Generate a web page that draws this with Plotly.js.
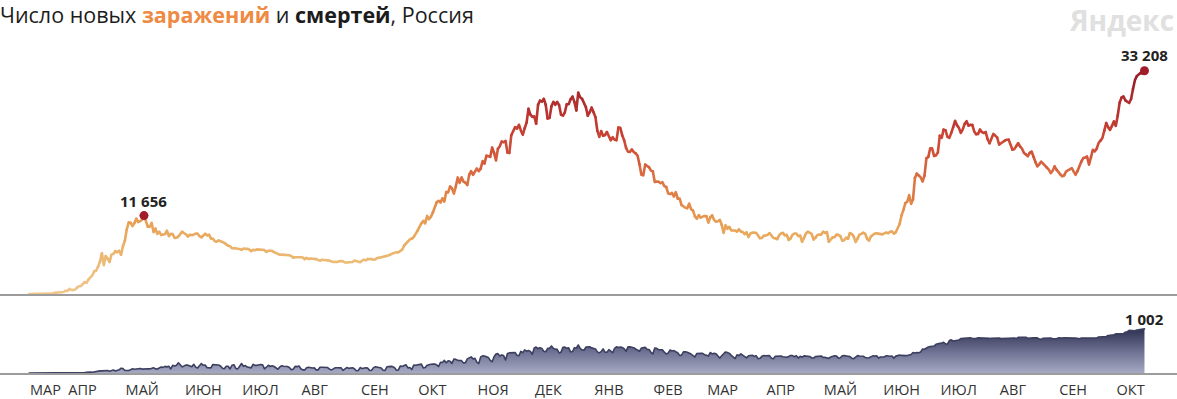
<!DOCTYPE html>
<html><head><meta charset="utf-8">
<script src="https://cdn.plot.ly/plotly-3.0.1.min.js"></script>
<style>
html,body{margin:0;padding:0;background:#fff;}
#chart{width:1177px;height:399px;}
path.js-line{stroke-linecap:round !important;stroke-linejoin:round !important;}
</style></head><body><div id="chart"></div>
<script>
// Daily new cases, Russia (from 2020-03-12 and from 2021-01-01)
const startDate2020 = '2020-03-12';
const startDate2021 = '2021-01-01';
const cases2020 = [
 6,8,14,4,30,21,33,52,54,53,61,71,57,163,182,196,228,270,302,501,
 440,771,601,582,658,954,1154,1175,1459,1786,1667,2186,2558,2774,3388,3448,4070,4785,6060,4268,5642,5236,4774,5849,5966,6361,6198,6411,5841,7099,
 7933,9623,10633,10581,10102,10559,11231,10699,10817,11012,11656,10899,10028,9974,10598,9200,9709,8926,9263,8764,8849,8894,9434,8599,8946,8915,8338,8371,8572,8952,9268,
 9035,8863,8536,8831,8726,8855,8984,8985,8595,8404,8779,8987,8706,8835,8246,8248,7843,7790,7972,7889,7728,7600,7425,7176,7113,6800,6852,6791,6719,6693,
 6556,6760,6718,6736,6611,6368,6562,6509,6635,6632,6615,6611,6537,6248,6422,6428,6406,6234,6109,5940,5842,5862,5848,5811,5871,5765,5635,5395,5475,5509,5482,
 5462,5427,5159,5394,5204,5267,5241,5212,5189,5118,4945,5102,5057,5065,5061,4969,4839,4748,4790,4767,4870,4921,4852,4696,4676,4711,4829,4758,4980,4897,4729,
 4729,4952,5110,4995,5205,5195,5185,5099,5172,5363,5406,5449,5509,5539,5670,5762,5905,6065,6148,6196,6215,6431,6595,7212,7523,7867,8135,8232,8481,8945,
 9412,9859,10499,10888,10499,11615,11115,11493,12126,12846,13634,13868,13592,14231,13754,15150,15099,15982,15700,14922,15971,17340,16521,17347,16710,16550,16202,17717,18283,17717,18140,
 18665,18257,18648,19768,19404,20582,20498,20396,21798,20977,19851,21608,21983,22702,22572,22778,21020,20985,23610,24318,24822,24581,25173,24326,23675,24654,25487,27543,26683,26338,
 26402,25345,28145,28782,28585,29039,28142,26097,26190,27927,28585,28137,28585,28080,26689,26509,27025,28214,28209,28948,29350,28552,27300,29935,29258,29018,28284,27787,26513,27039,27747
];
const cases2021 = [
 27029,26301,24246,23351,24217,23541,23652,24092,23309,22851,23315,22934,22850,24763,24715,23586,22857,21734,21152,21127,21513,21127,20921,20588,19290,17741,17648,19238,19032,18856,18359,
 18241,16643,16714,16688,16474,16627,16048,15916,14957,14861,15038,14494,15150,14185,14207,13233,12953,12828,12742,13447,12604,12393,11534,11198,11749,11359,11534,11611,
 11571,10595,11385,11687,11024,10753,10816,11022,10285,9079,10233,9701,9999,9454,9445,9437,9270,9632,9299,9215,8892,9195,8457,8998,9128,9073,9100,8711,8277,8328,8674,
 8679,8792,9068,8646,8328,8294,8173,8731,8995,9102,8702,8814,8053,8271,8807,8996,8995,8632,8672,7757,8328,8979,9270,9073,8951,8115,8367,8780,8850,8830,
 9270,9073,9221,7770,8095,8419,8457,8824,8790,8618,7920,7975,8380,8217,9074,8948,8554,7726,8237,8828,8947,9121,8951,8217,7920,8554,8828,8998,9018,8951,8828,
 8863,9022,9145,9018,9270,9316,8957,9184,9936,10407,11699,12505,13510,13721,14723,13397,14057,17262,17906,17611,17378,16715,17594,20182,20393,21665,21650,20538,20616,21042,
 23543,23218,24439,24353,23378,23218,23962,24818,25766,25082,24702,23947,24472,25293,25704,25018,25173,25140,24166,23770,23811,24471,24072,23947,24072,23032,22420,23270,23811,23564,23270,
 22200,22420,22589,22804,22950,22950,22136,21450,21571,22010,22450,21932,21600,20970,20765,20484,20992,21200,20402,19630,18970,19286,19700,19400,19100,18780,18500,17980,18325,18970,18500,
 18100,17800,17480,17650,18200,18400,18600,18730,18200,17730,18300,19100,19700,20220,20300,20460,19220,20300,21450,21200,21600,22450,22800,23200,24300,25430,24800,24400,25000,25680,
 25000,26500,28450,29200,29400,28800,28600,28400,29000,30500,31800,32400,32700,32900,32800,33208
];
// Daily deaths, Russia
const deaths2020 = [
 0,0,0,0,0,0,0,1,0,0,0,0,0,1,1,0,1,1,2,8,
 2,4,4,9,2,2,11,13,13,12,18,12,22,18,28,28,41,48,48,51,51,57,42,60,66,47,57,72,108,101,
 57,57,58,76,95,86,88,98,104,88,94,107,96,93,113,119,94,91,115,135,127,150,139,153,92,174,161,174,232,181,138,
 162,182,178,169,144,197,134,112,171,216,174,181,119,113,117,193,194,181,182,161,109,95,153,154,92,176,188,104,93,154,
 216,154,168,135,134,117,198,173,174,186,192,188,95,131,175,147,166,147,111,85,138,165,153,151,147,124,77,85,150,144,161,
 95,70,70,121,130,119,114,116,70,70,130,129,123,114,124,88,70,94,119,118,122,117,60,102,123,106,106,117,98,50,56,
 123,100,118,119,110,56,61,122,140,128,125,112,63,58,141,150,150,144,119,64,70,160,150,169,186,117,124,80,179,176,
 186,201,202,117,123,176,191,197,202,202,184,147,244,239,286,232,279,265,219,317,309,286,283,280,229,232,320,346,366,320,334,
 245,214,366,389,386,378,354,286,256,368,432,439,387,411,395,294,442,456,463,461,467,401,391,491,463,524,496,510,491,425,
 569,589,554,575,558,492,481,561,560,613,559,542,536,456,473,582,587,561,572,481,482,575,562,635,561,524,516,589,587,595,570
];
const deaths2021 = [
 549,547,480,456,487,546,471,470,530,486,460,561,594,578,591,577,554,492,594,594,588,575,545,509,494,565,576,586,537,534,470,
 432,566,559,530,527,525,472,432,452,521,500,509,484,461,400,404,480,484,470,459,431,393,364,444,439,446,447,416,
 406,383,465,433,446,434,388,339,392,435,478,467,445,400,356,329,412,395,436,401,380,343,390,395,401,378,390,327,333,378,396,
 390,385,394,337,325,379,381,377,385,369,354,357,375,397,396,368,394,338,381,359,389,383,388,374,343,341,372,375,377,386,
 353,358,343,331,364,384,392,384,338,346,389,396,395,382,372,336,325,361,395,385,384,380,354,340,346,369,389,384,392,339,362,
 363,365,393,384,381,386,338,383,396,408,399,389,395,398,404,419,466,453,466,460,478,546,540,568,590,601,599,611,652,669,
 672,679,697,663,654,737,752,726,737,752,749,780,786,791,786,789,799,784,780,784,799,796,793,786,780,781,785,790,794,790,800,
 791,780,781,787,795,790,791,795,793,781,808,812,815,817,810,789,798,800,799,797,799,770,764,788,790,791,793,795,776,769,776,
 798,792,796,799,795,788,796,797,792,795,792,777,792,793,794,792,798,799,791,794,796,817,820,828,822,828,852,852,857,867,
 887,890,887,895,895,929,936,968,962,957,960,973,984,986,999,1002
];
const monthTickDates = ['2020-03-12','2020-04-01','2020-05-01','2020-06-01','2020-07-01','2020-08-01','2020-09-01','2020-10-01','2020-11-01','2020-12-01',
 '2021-01-01','2021-02-01','2021-03-01','2021-04-01','2021-05-01','2021-06-01','2021-07-01','2021-08-01','2021-09-01','2021-10-01'];
const monthTickLabels = ['МАР','АПР','МАЙ','ИЮН','ИЮЛ','АВГ','СЕН','ОКТ','НОЯ','ДЕК','ЯНВ','ФЕВ','МАР','АПР','МАЙ','ИЮН','ИЮЛ','АВГ','СЕН','ОКТ'];
const firstWaveEnd = '2020-07-01';
const chartTitle = 'Число новых <b><span style="color:#ee8a43">заражений</span></b> и <b>смертей</b>, Россия';
const brandText = 'Яндекс';

function datesFrom(start, n){
  const d0 = Date.parse(start + 'T00:00:00Z');
  return Array.from({length:n}, (_, i) => new Date(d0 + i*86400000).toISOString().slice(0,10));
}
const casesX = datesFrom(startDate2020, cases2020.length).concat(datesFrom(startDate2021, cases2021.length));
const casesY = cases2020.concat(cases2021);
const deathsX = datesFrom(startDate2020, deaths2020.length).concat(datesFrom(startDate2021, deaths2021.length));
const deathsY = deaths2020.concat(deaths2021);

const FONT = 'Open Sans, Roboto, sans-serif';
const lineScale = [[0,[239,198,140]],[0.15,[236,186,116]],[0.3,[232,164,88]],[0.45,[224,128,70]],[0.6,[212,92,60]],[0.75,[196,60,50]],[0.88,[174,44,46]],[1,[146,30,40]]];
function colorAt(f){
  f = Math.max(0, Math.min(1, f));
  for (let k = 1; k < lineScale.length; k++){
    if (f <= lineScale[k][0]){
      const a = lineScale[k-1], b = lineScale[k];
      const t = (f - a[0])/(b[0]-a[0]);
      const c = a[1].map((v,j) => Math.round(v + (b[1][j]-v)*t));
      return 'rgb(' + c.join(',') + ')';
    }
  }
  return 'rgb(' + lineScale[lineScale.length-1][1].join(',') + ')';
}
const maxCases = Math.max(...casesY);
const NB = 32;
const bins = Array.from({length:NB}, () => ({x:[], y:[]}));
let prevBin = -1;
for (let i = 0; i < casesY.length - 1; i++){
  const avg = (casesY[i] + casesY[i+1]) / 2;
  const b = Math.min(NB-1, Math.floor(avg / maxCases * NB));
  const bin = bins[b];
  if (b !== prevBin){
    if (bin.x.length){ bin.x.push(null); bin.y.push(null); }
    bin.x.push(casesX[i]); bin.y.push(casesY[i]);
  }
  bin.x.push(casesX[i+1]); bin.y.push(casesY[i+1]);
  prevBin = b;
}
const traces = [];
bins.forEach((bin, b) => {
  if (!bin.x.length) return;
  traces.push({type:'scatter', mode:'lines', x:bin.x, y:bin.y, xaxis:'x', yaxis:'y',
    line:{color:colorAt((b+0.5)/NB), width:2.6}, connectgaps:false, hoverinfo:'skip', showlegend:false});
});
// peak markers: first-wave maximum and the latest value
let iPeak1 = 0;
for (let i = 0; i < casesY.length && casesX[i] < firstWaveEnd; i++){ if (casesY[i] > casesY[iPeak1]) iPeak1 = i; }
const iLast = casesY.length - 1;
const markX = [casesX[iPeak1], casesX[iLast]];
const markY = [casesY[iPeak1], casesY[iLast]];
traces.push({type:'scatter', mode:'markers', x:markX, y:markY, xaxis:'x', yaxis:'y',
  marker:{color:'#a01c29', size:9}, hoverinfo:'skip', showlegend:false});
// deaths area
traces.push({type:'scatter', mode:'lines', x:deathsX, y:deathsY, xaxis:'x2', yaxis:'y2',
  fill:'tozeroy', line:{color:'#3c3f5f', width:1.6},
  fillgradient:{type:'vertical', colorscale:[[0,'#a6a9c2'],[0.5,'#6c6f90'],[1,'#2e3150']], start:0, stop:1002},
  hoverinfo:'skip', showlegend:false});

const fmt = v => String(v).replace(/\B(?=(\d{3})+(?!\d))/g, ' ');
const xRange = ['2020-02-25 17:30', '2021-11-02 00:00'];
const annFont = {family:FONT, size:15, color:'#222'};
const layout = {
  width:1177, height:399, margin:{l:0, r:0, t:0, b:0}, paper_bgcolor:'#fff', plot_bgcolor:'rgba(0,0,0,0)',
  font:{family:FONT, color:'#222'},
  title:{text:chartTitle, x:0, xref:'container', xanchor:'left', y:1-15/399, yref:'container', yanchor:'middle',
    font:{family:FONT, size:21.5, color:'#1c1c1c'}},
  xaxis:{domain:[0,1], range:xRange, type:'date', showgrid:false, zeroline:false, showticklabels:false, ticks:'',
    showline:true, linecolor:'#9c9c9c', linewidth:1.5, anchor:'y', fixedrange:true},
  yaxis:{domain:[1-294/399, 1], range:[0, 43722], showgrid:false, zeroline:false, showticklabels:false, ticks:'', showline:false, fixedrange:true},
  xaxis2:{domain:[0,1], range:xRange, type:'date', showgrid:false, zeroline:false, ticks:'',
    showline:true, linecolor:'#9c9c9c', linewidth:1.5, anchor:'y2',
    tickmode:'array', tickvals:monthTickDates, ticktext:monthTickLabels, ticklabelposition:'outside right', ticklabelstandoff:3,
    tickfont:{family:FONT, size:14.5, color:'#333'}, fixedrange:true},
  yaxis2:{domain:[1-373/399, 1-310/399], range:[0, 1430], showgrid:false, zeroline:false, showticklabels:false, ticks:'', showline:false, fixedrange:true},
  annotations:[
    {x:markX[0], y:markY[0], xref:'x', yref:'y', text:'<b>'+fmt(markY[0])+'</b>', showarrow:false, yshift:15, yanchor:'middle', xanchor:'center', font:annFont},
    {x:markX[1], y:markY[1], xref:'x', yref:'y', text:'<b>'+fmt(markY[1])+'</b>', showarrow:false, yshift:16, yanchor:'middle', xanchor:'center', font:annFont},
    {x:deathsX[deathsX.length-1], y:deathsY[deathsY.length-1], xref:'x2', yref:'y2', text:'<b>'+fmt(deathsY[deathsY.length-1])+'</b>', showarrow:false, yshift:10, yanchor:'middle', xanchor:'center', font:annFont},
    {x:1175/1177, y:1, xref:'paper', yref:'paper', text:'<b>'+brandText+'</b>', showarrow:false, xanchor:'right', yanchor:'top', borderpad:0,
      font:{family:FONT, size:28, color:'#e0e0e0'}}
  ],
  hovermode:false, showlegend:false
};
Plotly.newPlot('chart', traces, layout, {staticPlot:true, displayModeBar:false});
</script></body></html>
